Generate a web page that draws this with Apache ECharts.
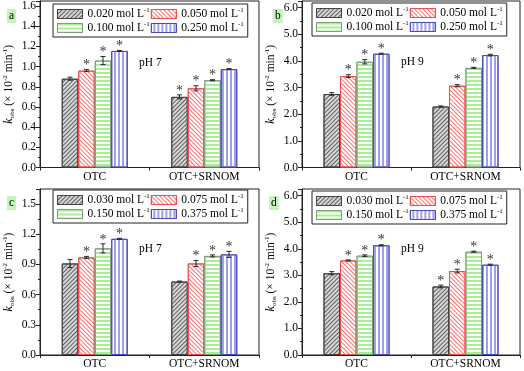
<!DOCTYPE html>
<html>
<head>
<meta charset="utf-8">
<script src="https://cdn.jsdelivr.net/npm/echarts@6/dist/echarts.min.js"></script>
<style>html,body{margin:0;padding:0;background:#fff}#c{width:524px;height:371px}</style>
</head>
<body>
<div id="c"></div>
<script>
// ---------------- data ----------------
const categories = ['OTC', 'OTC+SRNOM'];
const concAB = ['0.020', '0.050', '0.100', '0.250'];
const concCD = ['0.030', '0.075', '0.150', '0.375'];
const ticksAC = [0, 0.2, 0.4, 0.6, 0.8, 1.0, 1.2, 1.4, 1.6];
const ticksC = [0, 0.3, 0.6, 0.9, 1.2, 1.5];
const ticksBD = [0, 1, 2, 3, 4, 5, 6];

// values per concentration: [OTC, OTC+SRNOM]
const aValues = [[0.88, 0.70], [0.96, 0.785], [1.06, 0.865], [1.155, 0.975]];
const aErrors = [[0.015, 0.02], [0.01, 0.025], [0.04, 0.005], [0.005, 0.005]];
const aStars  = [[0, 1], [1, 1], [1, 1], [1, 1]];

const bValues = [[2.76, 2.29], [3.43, 3.07], [3.97, 3.74], [4.27, 4.22]];
const bErrors = [[0.05, 0.02], [0.05, 0.04], [0.08, 0.02], [0.02, 0.03]];
const bStars  = [[0, 0], [1, 1], [1, 1], [1, 1]];

const cValues = [[0.91, 0.73], [0.97, 0.91], [1.06, 0.985], [1.155, 1.00]];
const cErrors = [[0.04, 0.005], [0.01, 0.03], [0.045, 0.01], [0.005, 0.03]];
const cStars  = [[0, 0], [1, 1], [1, 1], [1, 1]];

const dValues = [[3.08, 2.58], [3.56, 3.16], [3.74, 3.89], [4.13, 3.40]];
const dErrors = [[0.06, 0.05], [0.02, 0.07], [0.03, 0.02], [0.02, 0.02]];
const dStars  = [[0, 1], [1, 1], [1, 1], [1, 1]];

const pHLabels = ['pH 7', 'pH 9', 'pH 7', 'pH 9'];
const letters = ['a', 'b', 'c', 'd'];

// ---------------- layout / style ----------------
const FONT = '"Liberation Serif", "Times New Roman", serif';
const FS = 11.5;
const BAR_W = 16.5;
const panels = [
  {values: aValues, errors: aErrors, stars: aStars, conc: concAB, ticks: ticksAC, max: 1.65, interval: 0.2,
   grid: {left: 40, top: 1, width: 219, height: 166.5}, legend: {left: 53, top: 4}, pH: [139, 57], letter: [7, 9]},
  {values: bValues, errors: bErrors, stars: bStars, conc: concAB, ticks: ticksBD, max: 6.25, interval: 1,
   grid: {left: 302, top: 1, width: 218, height: 166.5}, legend: {left: 312, top: 3}, pH: [401, 56], letter: [273, 9]},
  {values: cValues, errors: cErrors, stars: cStars, conc: concCD, ticks: ticksC, max: 1.65, interval: 0.3,
   grid: {left: 40, top: 189, width: 219, height: 166}, legend: {left: 53, top: 190}, pH: [139, 243], letter: [7, 196]},
  {values: dValues, errors: dErrors, stars: dStars, conc: concCD, ticks: ticksBD, max: 6.25, interval: 1,
   grid: {left: 302, top: 189, width: 218, height: 166}, legend: {left: 312, top: 191}, pH: [401, 243], letter: [269, 196]}
];

const barStyles = [
  {color: '#d6d6d6', borderColor: '#444', decal: {symbol: 'rect', symbolSize: 1, color: '#606060', dashArrayX: [1, 0], dashArrayY: [1, 2], rotation: -Math.PI / 4}},
  {color: '#ffffff', borderColor: '#e85050', decal: {symbol: 'rect', symbolSize: 1, color: '#ff7070', dashArrayX: [1, 0], dashArrayY: [1, 2], rotation: Math.PI / 4}},
  {color: '#ffffff', borderColor: '#7aa07a', decal: {symbol: 'rect', symbolSize: 1, color: '#a8ee92', dashArrayX: [1, 0], dashArrayY: [1.5, 1.5], rotation: 0}},
  {color: '#ffffff', borderColor: '#4a4ab8', decal: {symbol: 'rect', symbolSize: 1, color: '#a0a0f2', dashArrayX: [1, 0], dashArrayY: [1.3, 1.7], rotation: Math.PI / 2}}
];

const grids = [], xAxes = [], yAxes = [], series = [], legends = [], graphics = [];

panels.forEach(function (p, pi) {
  grids.push(Object.assign({show: true, borderColor: '#222', borderWidth: 1, backgroundColor: 'transparent'}, p.grid));
  xAxes.push({
    type: 'category', gridIndex: pi, data: categories,
    axisLine: {lineStyle: {color: '#222'}},
    axisTick: {show: true, length: 3, lineStyle: {color: '#222'}},
    axisLabel: {fontFamily: FONT, fontSize: FS, color: '#000', margin: 3}
  });
  yAxes.push({
    type: 'value', gridIndex: pi, min: 0, max: p.max, interval: p.interval,
    axisLine: {show: true, lineStyle: {color: '#222'}},
    axisTick: {show: true, length: 4, lineStyle: {color: '#222'}},
    minorTick: {show: true, splitNumber: 2, length: 2, lineStyle: {color: '#222'}},
    splitLine: {show: false},
    axisLabel: {fontFamily: FONT, fontSize: FS, color: '#000', margin: 4, showMaxLabel: false,
      formatter: function (v) { return p.ticks.some(function (t) { return Math.abs(t - v) < 1e-6; }) ? v.toFixed(1) : ''; }},
    name: '{i|k}{sub|obs}{n| (× 10}{sup|-2}{n| min}{sup|-1}{n|)}',
    nameLocation: 'middle', nameRotate: 90, nameGap: 24,
    nameTextStyle: {fontFamily: FONT, color: '#000', rich: {
      i: {fontFamily: FONT, fontSize: FS + 0.5, fontStyle: 'italic', lineHeight: 14, verticalAlign: 'middle'},
      n: {fontFamily: FONT, fontSize: FS, lineHeight: 14, verticalAlign: 'middle'},
      sub: {fontFamily: FONT, fontSize: 7, lineHeight: 14, verticalAlign: 'bottom'},
      sup: {fontFamily: FONT, fontSize: 7, lineHeight: 14, verticalAlign: 'top'}
    }}
  });
  const names = [];
  p.conc.forEach(function (c, si) {
    const nm = c + ' mol L-1';
    names.push(nm);
    series.push({
      type: 'bar', name: nm, xAxisIndex: pi, yAxisIndex: pi,
      barWidth: BAR_W, barGap: '0%',
      data: p.values[si],
      itemStyle: {color: barStyles[si].color, borderColor: barStyles[si].borderColor, borderWidth: 1, decal: barStyles[si].decal},
      emphasis: {disabled: true}, z: 2
    });
  });
  const errData = [];
  p.values.forEach(function (arr, si) {
    arr.forEach(function (v, ci) { errData.push([ci, si, v, p.errors[si][ci], p.stars[si][ci]]); });
  });
  series.push({
    type: 'custom', xAxisIndex: pi, yAxisIndex: pi, z: 5,
    encode: {x: 0, y: 2},
    data: errData,
    renderItem: function (params, api) {
      const ci = api.value(0), si = api.value(1), v = api.value(2), e = api.value(3), st = api.value(4);
      const c = api.coord([ci, v]);
      const x = c[0] + (si - 1.5) * BAR_W;
      const yT = api.coord([ci, v + e])[1];
      const yB = api.coord([ci, v - e])[1];
      const ls = {stroke: '#2a2a2a', lineWidth: 1};
      const ch = [
        {type: 'line', shape: {x1: x, y1: yT, x2: x, y2: yB}, style: ls},
        {type: 'line', shape: {x1: x - 2.5, y1: yT, x2: x + 2.5, y2: yT}, style: ls},
        {type: 'line', shape: {x1: x - 2.5, y1: yB, x2: x + 2.5, y2: yB}, style: ls}
      ];
      if (st) {
        ch.push({type: 'text', style: {text: '*', x: x, y: yT - 4, align: 'center', verticalAlign: 'middle',
          font: '14px ' + FONT, fill: '#333'}});
      }
      return {type: 'group', children: ch};
    }
  });
  legends.push({
    data: names, left: p.legend.left, top: p.legend.top, width: 240,
    orient: 'horizontal', icon: 'rect', itemWidth: 25, itemHeight: 9, itemGap: 1,
    padding: [3, 4, 3, 4], borderColor: '#222', borderWidth: 1,
    selectedMode: false,
    itemStyle: {borderWidth: 1},
    formatter: function (n) { return '{t|' + n.replace(' L-1', ' L') + '}{s|-1}'; },
    textStyle: {fontFamily: FONT, fontSize: FS, color: '#000', rich: {
      t: {fontFamily: FONT, fontSize: FS, lineHeight: 14, verticalAlign: 'middle'},
      s: {fontFamily: FONT, fontSize: 7, lineHeight: 14, verticalAlign: 'top'}
    }}
  });
  graphics.push({type: 'text', left: p.pH[0], top: p.pH[1], style: {text: pHLabels[pi], font: FS + 'px ' + FONT, fill: '#000'}});
  graphics.push({type: 'text', left: p.letter[0], top: p.letter[1], style: {text: letters[pi], font: FS + 'px ' + FONT, fill: '#000', backgroundColor: '#c4f3bc', padding: [1, 2, 1, 2]}});
});

const chart = echarts.init(document.getElementById('c'), null, {renderer: 'canvas'});
chart.setOption({
  animation: false,
  backgroundColor: '#fff',
  grid: grids, xAxis: xAxes, yAxis: yAxes, series: series, legend: legends, graphic: graphics
});
</script>
</body>
</html>
